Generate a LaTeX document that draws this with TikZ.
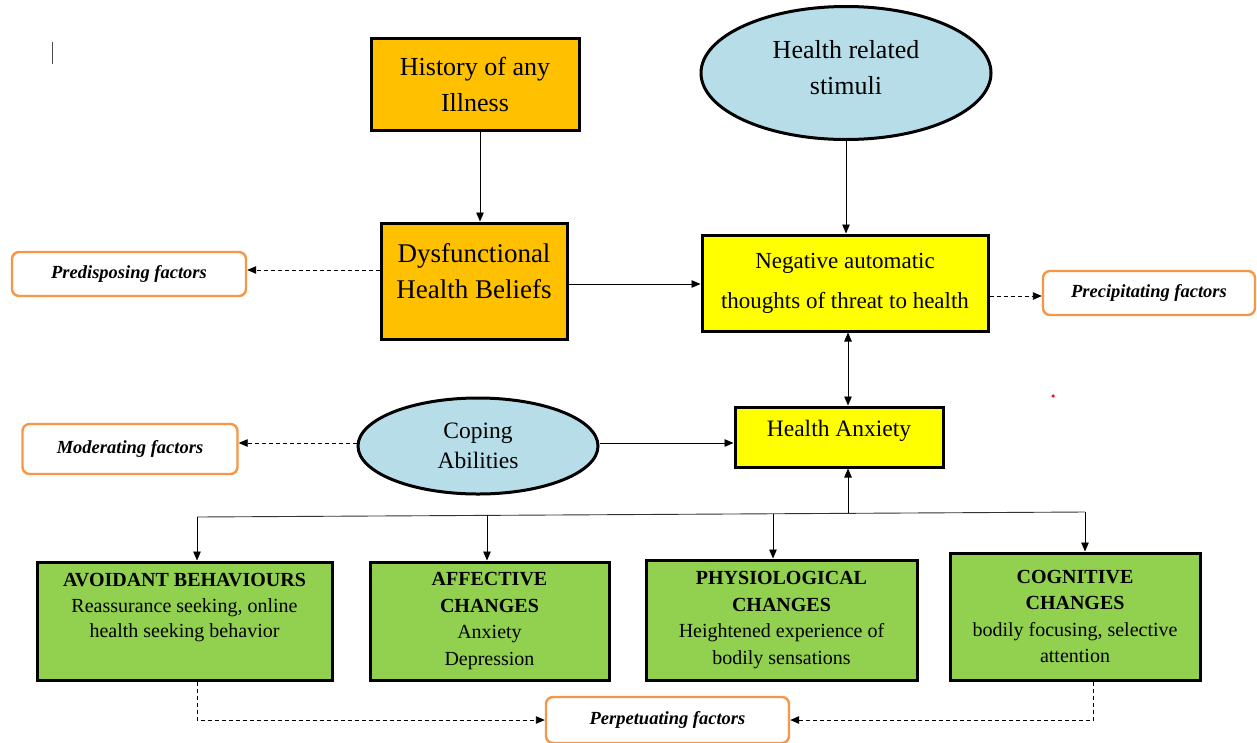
\documentclass[tikz,border=0pt]{standalone}
\usepackage{fontspec}
\setmainfont{Liberation Serif}
\usetikzlibrary{arrows.meta,shapes.geometric}
\definecolor{orF}{HTML}{FFC000}
\definecolor{ylw}{HTML}{FFFF00}
\definecolor{blu}{HTML}{B7DEE8}
\definecolor{grn}{HTML}{92D050}
\definecolor{facor}{HTML}{F79646}
\begin{document}
\begin{tikzpicture}[x=1pt,y=-1pt,
  box/.style={draw=black, line width=3pt, inner sep=0pt, align=center},
  obox/.style={box, fill=orF},
  ybox/.style={box, fill=ylw},
  gbox/.style={box, fill=grn, font=\fontsize{20}{26.5}\selectfont},
  ell/.style={ellipse, draw=black, line width=3pt, fill=blu, inner sep=0pt, align=center},
  fac/.style={draw=facor, line width=2.4pt, rounded corners=7pt, fill=white, inner sep=0pt,
              font=\fontsize{18.5}{22}\selectfont\bfseries\itshape},
  txt/.style={inner sep=0pt, align=center},
  arr/.style={-{Triangle[length=9pt,width=7.5pt]}, line width=0.9pt},
  darr/.style={arr, dash pattern=on 4pt off 3pt}
]
\useasboundingbox (0,0) rectangle (1257,742);

% cursor mark
\draw[line width=0.8pt, black!70] (52,42) -- (52,64);

% top row
\node[obox, minimum width=208pt, minimum height=92pt,
      font=\fontsize{26}{36}\selectfont] (hist) at (475,84) {History of any\\Illness};
\node[ell, minimum width=290pt, minimum height=133pt] (stim) at (846,73) {};
\node[txt, font=\fontsize{26}{36}\selectfont] (stimt) at (846,68) {Health related\\stimuli};

% second row
\node[obox, minimum width=186pt, minimum height=116pt] (dhb) at (474,281) {};
\node[txt, font=\fontsize{27}{36}\selectfont] (dhbt) at (474,271) {Dysfunctional\\Health Beliefs};
\node[ybox, minimum width=286pt, minimum height=96pt,
      font=\fontsize{23}{40}\selectfont] (nat) at (845,283) {Negative automatic\\thoughts of threat to health};
\node[fac, minimum width=234pt, minimum height=44pt] (pre) at (129,274) {Predisposing factors};
\node[fac, minimum width=212pt, minimum height=44pt] (prec) at (1149,293) {Precipitating factors};

% third row
\node[ybox, minimum width=208pt, minimum height=60pt] (ha) at (839,437) {};
\node[txt, font=\fontsize{23.5}{30}\selectfont] (hat) at (839,431) {Health Anxiety};
\node[ell, minimum width=240pt, minimum height=96pt,
      font=\fontsize{23.5}{30}\selectfont] (cop) at (478,446) {Coping\\Abilities};
\node[fac, minimum width=215pt, minimum height=50pt] (mod) at (130,449) {Moderating factors};

% green boxes
\node[gbox, minimum width=295pt, minimum height=118pt] (avo) at (184.5,621) {};
\node[txt, font=\fontsize{20}{25.5}\selectfont] (avot) at (184.5,608)
  {\textbf{AVOIDANT BEHAVIOURS}\\Reassurance seeking, online\\health seeking behavior};
\node[gbox, minimum width=239pt, minimum height=118pt] (aff) at (489.5,621)
  {\textbf{AFFECTIVE}\\\textbf{CHANGES}\\Anxiety\\Depression};
\node[gbox, minimum width=271pt, minimum height=120pt] (phy) at (781.5,620)
  {\textbf{PHYSIOLOGICAL}\\\textbf{CHANGES}\\Heightened experience of\\bodily sensations};
\node[gbox, minimum width=250pt, minimum height=127pt] (cog) at (1075,616.5)
  {\textbf{COGNITIVE}\\\textbf{CHANGES}\\bodily focusing, selective\\attention};
\node[fac, minimum width=243pt, minimum height=46pt] (perp) at (667.5,720) {Perpetuating factors\\[-2pt]};

% red dot
\node[circle, fill=red, inner sep=0pt, minimum size=3.5pt] (dot) at (1053,396) {};

% connectors
\draw[arr] ([xshift=5pt]hist.south) -- ([xshift=6pt]dhb.north);
\draw[arr] (stim.south) -- (stim.south |- nat.north);
\draw[arr] ([yshift=-3pt]dhb.east) -- ([yshift=-3pt]dhb.east -| nat.west);
\draw[darr] ([yshift=11pt]dhb.west) -- ([yshift=11pt]dhb.west -| pre.east);
\draw[darr] ([yshift=-13pt]nat.east) -- ([yshift=-13pt]nat.east -| prec.west);
\draw[{Triangle[length=9pt,width=7.5pt]}-{Triangle[length=9pt,width=7.5pt]}, line width=0.9pt]
  ([xshift=9pt]ha.north) -- ([xshift=9pt]ha.north |- nat.south);
\draw[arr] ([yshift=3pt]cop.east) -- ([yshift=3pt]cop.east -| ha.west);
\draw[darr] ([yshift=3pt]cop.west) -- ([yshift=3pt]cop.west -| mod.east);

% bus
\coordinate (b1) at (197,517);
\coordinate (b2) at (487,515.4);
\coordinate (b3) at (773,513.8);
\coordinate (bj) at (848,513.3);
\coordinate (b4) at (1085,512);
\draw[line width=0.9pt, black!80] (b1) -- (b4);
\draw[arr] (bj) -- (bj |- ha.south);
\draw[arr] (b1) -- (b1 |- avo.north);
\draw[arr] (b2) -- (b2 |- aff.north);
\draw[arr] (b3) -- (b3 |- phy.north);
\draw[arr] (b4) -- (b4 |- cog.north);

% perpetuating
\draw[darr] (b1 |- avo.south) |- (perp.west);
\draw[darr] ([xshift=18pt]cog.south) |- (perp.east);
\end{tikzpicture}
\end{document}
